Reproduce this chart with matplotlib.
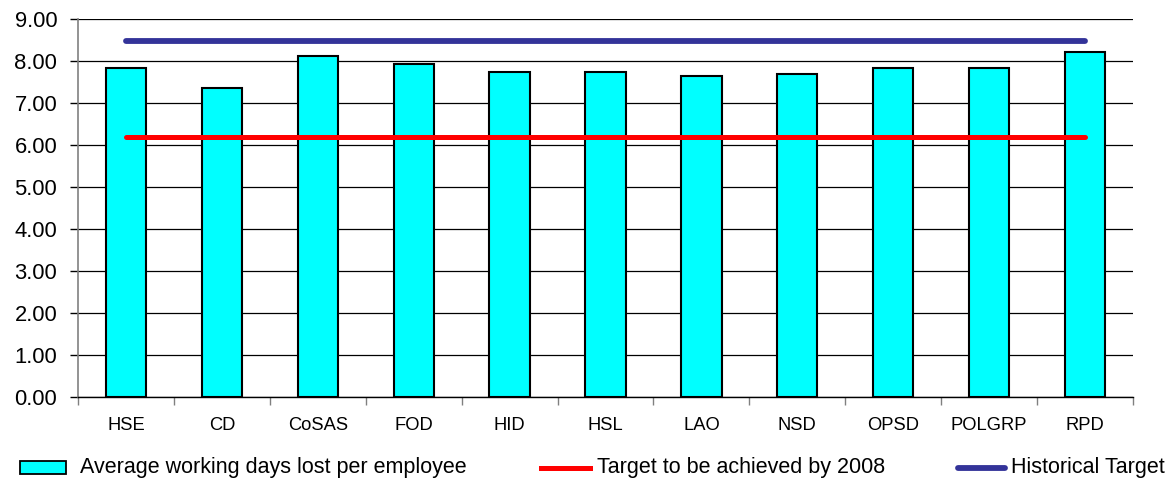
import matplotlib
matplotlib.use("Agg")
import matplotlib.pyplot as plt
from matplotlib.patches import Rectangle
from matplotlib.lines import Line2D
import numpy as np

plt.rcParams['font.family'] = ['Liberation Sans', 'DejaVu Sans']

# Sickness absence by directorate
categories = ["HSE", "CD", "CoSAS", "FOD", "HID", "HSL", "LAO", "NSD", "OPSD", "POLGRP", "RPD"]
avg_days_lost = [7.85, 7.37, 8.13, 7.94, 7.75, 7.75, 7.65, 7.70, 7.85, 7.85, 8.23]
target_2008 = 6.19
historical_target = 8.48
y_ticks = [0.0, 1.0, 2.0, 3.0, 4.0, 5.0, 6.0, 7.0, 8.0, 9.0]

W, H = 1175, 483
fig = plt.figure(figsize=(W / 100, H / 100), dpi=100)
ax = fig.add_axes([78 / W, 1 - 397.3 / H, (1133 - 78) / W, (397.3 - 19.3) / H])

x = np.arange(len(categories))
ax.bar(x, avg_days_lost, width=0.42, color="#00FFFF", edgecolor="black",
       linewidth=1.5, zorder=2)
ax.plot(x, [target_2008] * len(x), color="#FF0000", linewidth=3.6,
        solid_capstyle="round", zorder=3)
ax.plot(x, [historical_target] * len(x), color="#333399", linewidth=4.2,
        solid_capstyle="round", zorder=3)

ax.set_xlim(-0.5, len(categories) - 0.5)
ax.set_ylim(0, 9)
ax.set_yticks(y_ticks)
ax.set_yticklabels([f"{v:.2f}" for v in y_ticks], fontsize=15.8)
ax.set_xticks(x)
ax.set_xticklabels(categories, fontsize=13.2)
ax.set_xticks(np.arange(len(categories) + 1) - 0.5, minor=True)
ax.tick_params(axis="x", which="major", length=0, pad=14)
ax.tick_params(axis="x", which="minor", length=6, color="#808080", width=1)
ax.tick_params(axis="y", length=6, color="black", width=1, pad=9)

ax.yaxis.grid(True, color="black", linewidth=0.9, zorder=0)
ax.set_axisbelow(True)
for s in ("top", "right"):
    ax.spines[s].set_visible(False)
ax.spines["left"].set_color("#808080")
ax.spines["left"].set_linewidth(1.2)
ax.spines["bottom"].set_color("black")
ax.spines["bottom"].set_linewidth(1.0)

# Legend row along the bottom
ly = 1 - 467.5 / H
fig.add_artist(Rectangle((20 / W, ly - 6.5 / H), 46 / W, 13 / H,
                         facecolor="#00FFFF", edgecolor="black", linewidth=1.3,
                         transform=fig.transFigure))
fig.text(80 / W, ly, "Average working days lost per employee", fontsize=15.5,
         va="center", ha="left")
fig.add_artist(Line2D([541 / W, 590 / W], [ly, ly], color="#FF0000",
                      linewidth=3.6, transform=fig.transFigure))
fig.text(597 / W, ly, "Target to be achieved by 2008", fontsize=15.5,
         va="center", ha="left")
fig.add_artist(Line2D([958 / W, 1005 / W], [ly, ly], color="#333399",
                      linewidth=4.2, solid_capstyle="round",
                      transform=fig.transFigure))
fig.text(1011 / W, ly, "Historical Target", fontsize=15.5,
         va="center", ha="left")

fig.savefig("out.png", dpi=100, facecolor="white")
